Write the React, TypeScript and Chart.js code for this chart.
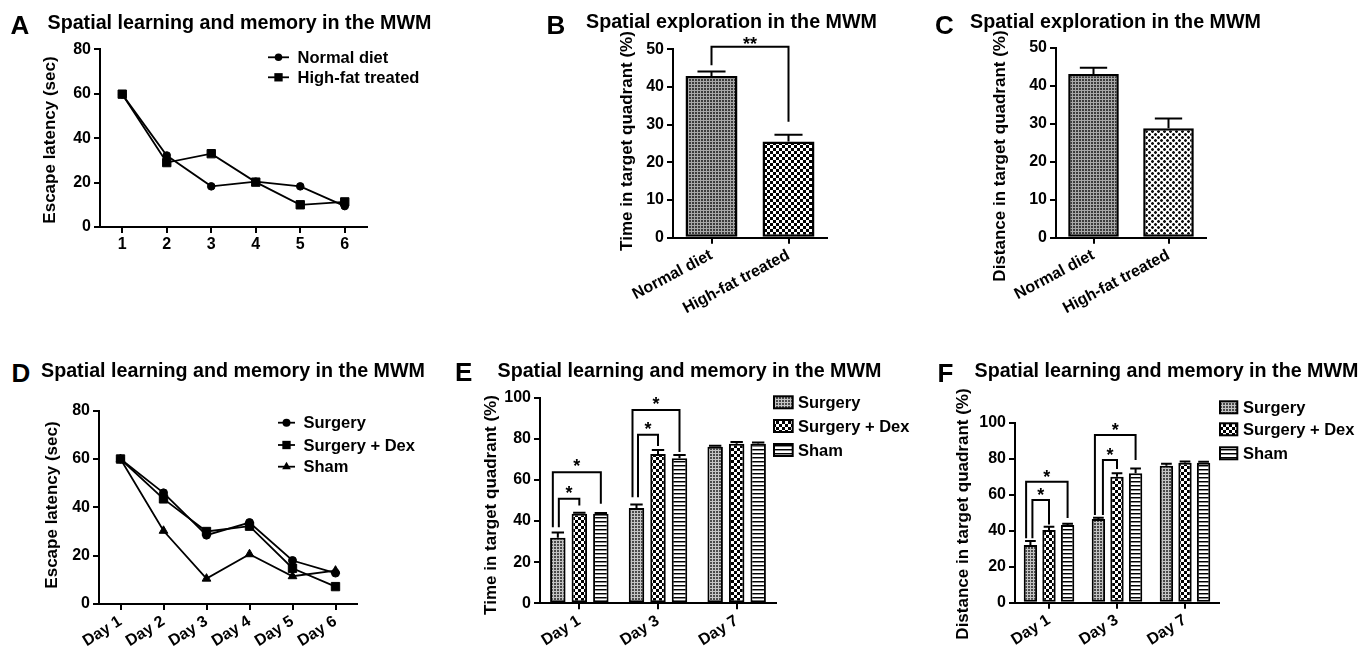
import React, { useEffect, useRef } from "react";
import { Chart, registerables } from "chart.js";

Chart.register(...registerables);

const FONT = "'Liberation Sans', Arial, Helvetica, sans-serif";
Chart.defaults.font.family = FONT;
Chart.defaults.color = "#000";

// ---------------- data ----------------
// Panel A
const trialDays = ["1", "2", "3", "4", "5", "6"];
const normalDietLatency = [59.7, 32.2, 18.3, 20.4, 18.3, 9.4];
const highFatLatency = [59.8, 29.0, 33.0, 20.2, 10.0, 11.3];

// Panels B and C
const dietGroups = ["Normal diet", "High-fat treated"];
const dietTimeInTarget = [42.9, 25.5];
const dietTimeInTargetSem = [1.2, 1.8];
const dietDistanceInTarget = [43.1, 28.8];
const dietDistanceInTargetSem = [1.6, 2.6];

// Panel D
const dayLabels = ["Day 1", "Day 2", "Day 3", "Day 4", "Day 5", "Day 6"];
const surgeryLatency = [60.0, 46.0, 28.5, 33.7, 18.0, 12.8];
const surgeryDexLatency = [60.0, 43.5, 30.0, 32.2, 14.8, 7.2];
const shamLatency = [60.0, 30.3, 10.5, 20.6, 11.5, 13.8];

// Panel E
const probeDays = ["Day 1", "Day 3", "Day 7"];
const surgeryTime = [31.9, 46.3, 76.1];
const surgeryTimeSem = [2.5, 1.7, 0.5];
const surgeryDexTime = [43.5, 72.6, 77.6];
const surgeryDexTimeSem = [0.5, 1.9, 0.8];
const shamTime = [43.5, 70.5, 77.6];
const shamTimeSem = [0.4, 1.6, 0.6];

// Panel F
const surgeryDistance = [32.0, 46.5, 76.1];
const surgeryDistanceSem = [2.3, 0.7, 1.1];
const surgeryDexDistance = [40.4, 70.0, 77.8];
const surgeryDexDistanceSem = [1.8, 1.9, 0.7];
const shamDistance = [43.1, 71.9, 77.8];
const shamDistanceSem = [0.8, 2.7, 0.5];

// significance brackets: [fromDataset, fromIndex, toDataset, toIndex, topValue, leftEndValue, rightEndValue, label]
const dietTimeBrackets: any[] = [[0, 0, 0, 1, 50.7, 45.8, 30.8, "**"]];
const timeBrackets: any[] = [
  [0, 0, 1, 0, 50.8, 37.0, 47.6, "*"],
  [0, 0, 2, 0, 63.7, 37.0, 48.4, "*"],
  [0, 1, 1, 1, 82.0, 51.6, 76.5, "*"],
  [0, 1, 2, 1, 94.0, 51.6, 73.5, "*"],
];
const distanceBrackets: any[] = [
  [0, 0, 1, 0, 57.0, 35.8, 43.5, "*"],
  [0, 0, 2, 0, 67.2, 35.8, 47.0, "*"],
  [0, 1, 1, 1, 79.3, 48.7, 74.3, "*"],
  [0, 1, 2, 1, 93.1, 48.7, 79.3, "*"],
];

// ---------------- layout / style ----------------
type Geom = {
  left: number; top: number; width: number; height: number;
  areaL: number; areaT: number; areaR: number; areaB: number;
  titleX: number; titleY: number;
};

const geomA: Geom = { left: 0, top: 30, width: 470, height: 240, areaL: 100, areaT: 49.3, areaR: 367, areaB: 227, titleX: 50, titleY: 140 };
const geomB: Geom = { left: 560, top: 25, width: 300, height: 290, areaL: 673, areaT: 49.3, areaR: 827, areaB: 237.7, titleX: 627, titleY: 141 };
const geomC: Geom = { left: 950, top: 25, width: 300, height: 290, areaL: 1056, areaT: 47.7, areaR: 1206, areaB: 237.7, titleX: 1000, titleY: 156 };
const geomD: Geom = { left: 0, top: 390, width: 470, height: 257, areaL: 99, areaT: 410.7, areaR: 357, areaB: 604, titleX: 52, titleY: 505 };
const geomE: Geom = { left: 470, top: 385, width: 440, height: 262, areaL: 540, areaT: 396.7, areaR: 776, areaB: 603.3, titleX: 491.7, titleY: 505 };
const geomF: Geom = { left: 920, top: 385, width: 441, height: 262, areaL: 1015, areaT: 422.7, areaR: 1219, areaB: 602.7, titleX: 963, titleY: 514 };

const groupBracketShift = [1, -5, 1.5, -4];
const groupBracketShiftF = [2, -4.3, 4.5, -3.5];

const TICK_FONT = { family: FONT, size: 16, weight: "bold" as const };
const LEGEND_FONT = `bold 16.5px ${FONT}`;
const AXIS_TITLE_FONT = `bold 17px ${FONT}`;

// ---------------- patterns ----------------
function tile(w: number, h: number, draw: (c: CanvasRenderingContext2D) => void) {
  const c = document.createElement("canvas");
  c.width = w;
  c.height = h;
  draw(c.getContext("2d")!);
  return c;
}

function makePatterns(ctx: CanvasRenderingContext2D) {
  const grayDots = tile(3, 3, (c) => {
    c.fillStyle = "#a8a8a8"; c.fillRect(0, 0, 3, 3);
    c.fillStyle = "#3c3c3c"; c.fillRect(0, 0, 2, 2);
  });
  const lightDots = tile(3, 3, (c) => {
    c.fillStyle = "#c4c4c4"; c.fillRect(0, 0, 3, 3);
    c.fillStyle = "#4a4a4a"; c.fillRect(0, 0, 2, 2);
  });
  const checker = tile(6, 6, (c) => {
    c.fillStyle = "#fff"; c.fillRect(0, 0, 6, 6);
    c.fillStyle = "#000"; c.fillRect(0, 0, 3, 3); c.fillRect(3, 3, 3, 3);
  });
  const lightChecker = tile(6, 6, (c) => {
    c.fillStyle = "#fff"; c.fillRect(0, 0, 6, 6);
    c.fillStyle = "#111"; c.fillRect(0, 0, 3, 3); c.fillRect(3, 3, 3, 3);
    c.fillStyle = "#999";
    [[0, 0], [2, 0], [0, 2], [2, 2], [3, 3], [5, 3], [3, 5], [5, 5]].forEach(([x, y]) => c.fillRect(x, y, 1, 1));
  });
  const hLines = tile(4, 4, (c) => {
    c.fillStyle = "#fff"; c.fillRect(0, 0, 4, 4);
    c.fillStyle = "#000"; c.fillRect(0, 0, 4, 1);
    c.fillStyle = "#8a8a8a"; c.fillRect(0, 1, 4, 1);
  });
  const p = (t: HTMLCanvasElement) => ctx.createPattern(t, "repeat")!;
  return {
    grayDots: p(grayDots),
    lightDots: p(lightDots),
    checker: p(checker),
    lightChecker: p(lightChecker),
    hLines: p(hLines),
  };
}

// ---------------- helpers ----------------
function drawMarker(ctx: CanvasRenderingContext2D, style: string, x: number, y: number, r: number) {
  ctx.beginPath();
  if (style === "circle") {
    ctx.arc(x, y, r, 0, Math.PI * 2);
  } else if (style === "rect") {
    const s = r * Math.SQRT1_2;
    ctx.rect(x - s, y - s, 2 * s, 2 * s);
  } else if (style === "triangle") {
    for (let k = 0; k < 3; k++) {
      const a = (k * 2 * Math.PI) / 3;
      const px = x + Math.sin(a) * r;
      const py = y - Math.cos(a) * r;
      if (k === 0) ctx.moveTo(px, py);
      else ctx.lineTo(px, py);
    }
    ctx.closePath();
  }
  ctx.fill();
}

type LegendEntry = { label: string; marker?: string; radius?: number; fill?: any };
type LegendSpec = {
  kind: "line" | "box";
  x0: number; x1: number; textX: number; rows: number[]; boxH?: number;
  entries: LegendEntry[];
};

type Extras = {
  yTitle: string;
  errors?: number[][];
  capRatio?: number;
  brackets?: any[];
  bracketShift?: number[];
  bracketLabelDy?: number;
  legend?: LegendSpec;
};

function extrasPlugin(g: Geom, ex: Extras) {
  return {
    id: "figureExtras",
    afterDatasetsDraw(chart: any) {
      if (!ex.errors) return;
      const ctx: CanvasRenderingContext2D = chart.ctx;
      const y = chart.scales.y;
      ctx.save();
      ctx.strokeStyle = "#000";
      ctx.lineWidth = 2;
      chart.data.datasets.forEach((ds: any, di: number) => {
        const meta = chart.getDatasetMeta(di);
        meta.data.forEach((el: any, i: number) => {
          const v = ds.data[i] as number;
          const e = ex.errors![di][i];
          const top = y.getPixelForValue(v + e);
          const base = y.getPixelForValue(v);
          const half = (el.width * (ex.capRatio || 0.6)) / 2;
          ctx.beginPath();
          ctx.moveTo(el.x, base);
          ctx.lineTo(el.x, top);
          ctx.moveTo(el.x - half, top);
          ctx.lineTo(el.x + half, top);
          ctx.stroke();
        });
      });
      ctx.restore();
    },
    afterDraw(chart: any) {
      const ctx: CanvasRenderingContext2D = chart.ctx;
      const y = chart.scales.y;
      // axis title
      ctx.save();
      ctx.translate(g.titleX - g.left, g.titleY - g.top);
      ctx.rotate(-Math.PI / 2);
      ctx.font = AXIS_TITLE_FONT;
      ctx.fillStyle = "#000";
      ctx.textAlign = "center";
      ctx.textBaseline = "middle";
      ctx.fillText(ex.yTitle, 0, 0);
      ctx.restore();

      // brackets
      if (ex.brackets) {
        ctx.save();
        ctx.strokeStyle = "#000";
        ctx.fillStyle = "#000";
        ctx.lineWidth = 2;
        ctx.font = `bold 18px ${FONT}`;
        ctx.textAlign = "center";
        ctx.textBaseline = "alphabetic";
        ex.brackets.forEach((b: any[], k: number) => {
          const [fd, fi, td, ti, topV, leftV, rightV, label] = b;
          const shift = ex.bracketShift ? ex.bracketShift[k] : 0;
          const x1 = chart.getDatasetMeta(fd).data[fi].x + shift;
          const x2 = chart.getDatasetMeta(td).data[ti].x;
          const yt = y.getPixelForValue(topV);
          ctx.beginPath();
          ctx.moveTo(x1, y.getPixelForValue(leftV));
          ctx.lineTo(x1, yt);
          ctx.lineTo(x2, yt);
          ctx.lineTo(x2, y.getPixelForValue(rightV));
          ctx.stroke();
          ctx.fillText(label, (x1 + x2) / 2, yt + (ex.bracketLabelDy || 0));
        });
        ctx.restore();
      }

      // legend
      if (ex.legend) {
        const L = ex.legend;
        ctx.save();
        ctx.font = LEGEND_FONT;
        ctx.textAlign = "left";
        ctx.textBaseline = "middle";
        L.entries.forEach((en, i) => {
          const cy = L.rows[i] - g.top;
          const x0 = L.x0 - g.left;
          const x1 = L.x1 - g.left;
          if (L.kind === "line") {
            ctx.strokeStyle = "#000";
            ctx.fillStyle = "#000";
            ctx.lineWidth = 1.8;
            ctx.beginPath();
            ctx.moveTo(x0, cy);
            ctx.lineTo(x1, cy);
            ctx.stroke();
            drawMarker(ctx, en.marker || "circle", (x0 + x1) / 2, cy, en.radius || 4);
          } else {
            const h = L.boxH || 12;
            ctx.fillStyle = en.fill;
            ctx.fillRect(x0, cy - h / 2, x1 - x0, h);
            ctx.strokeStyle = "#000";
            ctx.lineWidth = 2;
            ctx.strokeRect(x0, cy - h / 2, x1 - x0, h);
          }
          ctx.fillStyle = "#000";
          ctx.fillText(en.label, L.textX - g.left, cy + 1);
        });
        ctx.restore();
      }
    },
  };
}

function yScale(g: Geom, max: number, step: number) {
  return {
    type: "linear",
    min: 0,
    max,
    ticks: { stepSize: step, color: "#000", font: TICK_FONT, padding: 3 },
    grid: { display: true, drawOnChartArea: false, drawTicks: true, tickLength: 6, color: "#000", lineWidth: 2 },
    border: { display: true, color: "#000", width: 2 },
    afterFit: (s: any) => {
      s.width = g.areaL - g.left;
    },
  };
}

function xScale(g: Geom, rotation: number) {
  return {
    type: "category",
    offset: true,
    ticks: { color: "#000", font: TICK_FONT, padding: 2, minRotation: rotation, maxRotation: rotation, autoSkip: false },
    grid: { display: true, drawOnChartArea: false, drawTicks: true, tickLength: 6, color: "#000", lineWidth: 2, offset: false },
    border: { display: true, color: "#000", width: 2 },
    afterFit: (s: any) => {
      s.height = g.top + g.height - g.areaB;
    },
  };
}

function baseOptions(g: Geom, max: number, step: number, rotation: number) {
  return {
    responsive: false,
    maintainAspectRatio: false,
    devicePixelRatio: 1,
    animation: false,
    events: [],
    layout: { padding: { top: g.areaT - g.top, right: g.left + g.width - g.areaR, left: 0, bottom: 0 } },
    plugins: { legend: { display: false }, tooltip: { enabled: false }, title: { display: false } },
    scales: { x: xScale(g, rotation), y: yScale(g, max, step) },
  };
}

function lineDataset(label: string, data: number[], pointStyle: string, radius: number) {
  return {
    label,
    data,
    borderColor: "#000",
    backgroundColor: "#000",
    borderWidth: 1.8,
    pointStyle,
    pointRadius: radius,
    pointBorderWidth: 1,
    pointBackgroundColor: "#000",
    tension: 0,
  };
}

// ---------------- chart builders ----------------
function buildA() {
  return {
    type: "line",
    data: {
      labels: trialDays,
      datasets: [
        lineDataset("Normal diet", normalDietLatency, "circle", 3.8),
        lineDataset("High-fat treated", highFatLatency, "rect", 5.9),
      ],
    },
    options: baseOptions(geomA, 80, 20, 0),
    plugins: [
      extrasPlugin(geomA, {
        yTitle: "Escape latency (sec)",
        legend: {
          kind: "line", x0: 268, x1: 289, textX: 297.5, rows: [57.3, 77.3],
          entries: [
            { label: "Normal diet", marker: "circle", radius: 3.8 },
            { label: "High-fat treated", marker: "rect", radius: 5.9 },
          ],
        },
      }),
    ],
  };
}

function buildDietBars(g: Geom, values: number[], sem: number[], fills: any[], title: string, brackets?: any[]) {
  return {
    type: "bar",
    data: {
      labels: dietGroups,
      datasets: [
        {
          label: title,
          data: values,
          backgroundColor: fills,
          borderColor: "#000",
          borderWidth: 2.5,
          borderSkipped: false,
          categoryPercentage: 1,
          barPercentage: 0.675,
        },
      ],
    },
    options: baseOptions(g, 50, 10, 28),
    plugins: [
      extrasPlugin(g, {
        yTitle: title,
        errors: [sem],
        capRatio: 0.54,
        brackets,
        bracketLabelDy: 3,
      }),
    ],
  };
}

function buildD() {
  return {
    type: "line",
    data: {
      labels: dayLabels,
      datasets: [
        lineDataset("Surgery", surgeryLatency, "circle", 4),
        lineDataset("Surgery + Dex", surgeryDexLatency, "rect", 5.9),
        lineDataset("Sham", shamLatency, "triangle", 5),
      ],
    },
    options: baseOptions(geomD, 80, 20, 32),
    plugins: [
      extrasPlugin(geomD, {
        yTitle: "Escape latency (sec)",
        legend: {
          kind: "line", x0: 278, x1: 295, textX: 303.5, rows: [422.7, 445, 466.7],
          entries: [
            { label: "Surgery", marker: "circle", radius: 4 },
            { label: "Surgery + Dex", marker: "rect", radius: 5.9 },
            { label: "Sham", marker: "triangle", radius: 5 },
          ],
        },
      }),
    ],
  };
}

function buildGroupBars(
  g: Geom, pats: any, series: number[][], sems: number[][], brackets: any[], shifts: number[],
  title: string, legendX: [number, number, number], rows: number[], bracketDy: number
) {
  const names = ["Surgery", "Surgery + Dex", "Sham"];
  const fills = [pats.lightDots, pats.checker, pats.hLines];
  return {
    type: "bar",
    data: {
      labels: probeDays,
      datasets: series.map((d, i) => ({
        label: names[i],
        data: d,
        backgroundColor: fills[i],
        borderColor: "#000",
        borderWidth: 2,
        borderSkipped: false,
        categoryPercentage: 0.82,
        barPercentage: 0.72,
      })),
    },
    options: baseOptions(g, 100, 20, 32),
    plugins: [
      extrasPlugin(g, {
        yTitle: title,
        errors: sems,
        capRatio: 0.8,
        brackets,
        bracketShift: shifts,
        bracketLabelDy: bracketDy,
        legend: {
          kind: "box", x0: legendX[0], x1: legendX[1], textX: legendX[2], rows, boxH: 12,
          entries: names.map((n, i) => ({ label: n, fill: fills[i] })),
        },
      }),
    ],
  };
}

// ---------------- components ----------------
function ChartCanvas({ geom, build }: { geom: Geom; build: (pats: any) => any }) {
  const ref = useRef<HTMLCanvasElement>(null);
  useEffect(() => {
    const canvas = ref.current!;
    const ctx = canvas.getContext("2d")!;
    const pats = makePatterns(ctx);
    const chart = new Chart(ctx, build(pats));
    return () => chart.destroy();
  }, []);
  return (
    <canvas
      ref={ref}
      width={geom.width}
      height={geom.height}
      style={{ position: "absolute", left: geom.left, top: geom.top, width: geom.width, height: geom.height }}
    />
  );
}

const panelTitles = [
  { letter: "A", lx: 10.5, lcap: 15.3, text: "Spatial learning and memory in the MWM", tx: 47.5, tcap: 16 },
  { letter: "B", lx: 546.5, lcap: 15, text: "Spatial exploration in the MWM", tx: 586, tcap: 15 },
  { letter: "C", lx: 935, lcap: 15, text: "Spatial exploration in the MWM", tx: 970, tcap: 15 },
  { letter: "D", lx: 11.5, lcap: 363.3, text: "Spatial learning and memory in the MWM", tx: 41, tcap: 363.3 },
  { letter: "E", lx: 455, lcap: 362.5, text: "Spatial learning and memory in the MWM", tx: 497.5, tcap: 363.3 },
  { letter: "F", lx: 937.5, lcap: 363.3, text: "Spatial learning and memory in the MWM", tx: 974.5, tcap: 363.3 },
];

const LETTER_SIZE = 26;
const TITLE_SIZE = 19.7;

export default function App() {
  return (
    <div style={{ position: "absolute", left: 0, top: 0, width: 1361, height: 647, background: "#fff", overflow: "hidden", fontFamily: FONT }}>
      <ChartCanvas geom={geomA} build={() => buildA()} />
      <ChartCanvas
        geom={geomB}
        build={(p) => buildDietBars(geomB, dietTimeInTarget, dietTimeInTargetSem, [p.grayDots, p.checker], "Time in target quadrant (%)", dietTimeBrackets)}
      />
      <ChartCanvas
        geom={geomC}
        build={(p) => buildDietBars(geomC, dietDistanceInTarget, dietDistanceInTargetSem, [p.grayDots, p.lightChecker], "Distance in target quadrant (%)")}
      />
      <ChartCanvas geom={geomD} build={() => buildD()} />
      <ChartCanvas
        geom={geomE}
        build={(p) =>
          buildGroupBars(
            geomE, p,
            [surgeryTime, surgeryDexTime, shamTime],
            [surgeryTimeSem, surgeryDexTimeSem, shamTimeSem],
            timeBrackets, groupBracketShift,
            "Time in target quadrant (%)", [774, 792.7, 798], [402.3, 426, 450], 0
          )
        }
      />
      <ChartCanvas
        geom={geomF}
        build={(p) =>
          buildGroupBars(
            geomF, p,
            [surgeryDistance, surgeryDexDistance, shamDistance],
            [surgeryDistanceSem, surgeryDexDistanceSem, shamDistanceSem],
            distanceBrackets, groupBracketShiftF,
            "Distance in target quadrant (%)", [1220, 1237.3, 1243], [407.3, 429.3, 453.3], 1
          )
        }
      />
      {panelTitles.map((t) => (
        <React.Fragment key={t.letter}>
          <div
            style={{
              position: "absolute", left: t.lx, top: t.lcap - 0.13 * LETTER_SIZE,
              fontSize: LETTER_SIZE, lineHeight: 1, fontWeight: "bold", whiteSpace: "nowrap", color: "#000",
            }}
          >
            {t.letter}
          </div>
          <div
            style={{
              position: "absolute", left: t.tx, top: t.tcap - 0.13 * TITLE_SIZE,
              fontSize: TITLE_SIZE, lineHeight: 1, fontWeight: "bold", whiteSpace: "nowrap", color: "#000",
            }}
          >
            {t.text}
          </div>
        </React.Fragment>
      ))}
    </div>
  );
}
